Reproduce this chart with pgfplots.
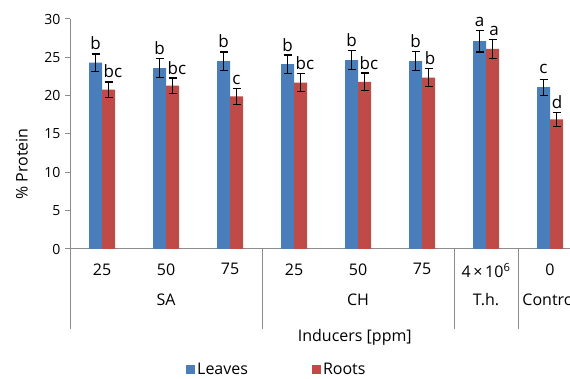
\documentclass[border=0pt]{standalone}
\usepackage{pgfplots}
\pgfplotsset{compat=1.18}
\usetikzlibrary{calc}
\usepackage{fontspec}
\setmainfont{Open Sans}
\definecolor{cblue}{HTML}{4A7EBB}
\definecolor{cred}{HTML}{BE4B48}
\definecolor{cgrey}{HTML}{8C8C8C}
\begin{document}
\begin{tikzpicture}[x=1pt,y=1pt]
\path[use as bounding box] (0,0) rectangle (570,379);
\begin{axis}[
  at={(70pt,130pt)}, anchor=south west,
  scale only axis, width=512pt, height=230pt,
  ybar=0pt, bar width=13pt,
  xmin=-0.5, xmax=7.5, ymin=0, ymax=30,
  ytick={0,5,...,30},
  xtick={0,...,7},
  xticklabels={25,50,75,25,50,75,{4\,×\,10\textsuperscript{6}},0},
  x tick label style={font=\fontsize{16}{18}\selectfont, yshift=-6pt},
  y tick label style={font=\fontsize{14}{16}\selectfont},
  /pgf/number format/assume math mode=true,
  axis x line*=bottom, axis y line*=left,
  axis line style={cgrey, line width=1pt, -},
  major tick length=5pt,
  xtick style={draw=none},
  ytick style={cgrey, line width=1pt},
  tick align=outside,
  yticklabel style={xshift=-1pt},
  ylabel={\% Protein},
  ylabel style={font=\fontsize{16}{18}\selectfont, at={(axis description cs:-0.094,0.37)}, anchor=center},
  clip=false,
  legend columns=2,
  legend style={at={(0.404,-0.526)}, anchor=center, draw=none, font=\fontsize{16}{18}\selectfont,
    /tikz/every even column/.append style={column sep=62pt},
    /tikz/every odd column/.append style={xshift=2pt}},
  legend image code/.code={\fill[#1] (0pt,-4.5pt) rectangle (9pt,4.5pt);},
]
\addplot[fill=cblue, draw=none,
  error bars/.cd, y dir=both, y explicit,
  error bar style={black, line width=1.3pt},
  error mark options={rotate=90, black, mark size=4pt, line width=1.3pt}]
  table[x=x, y=y, y error=e] {
x y e
0 24.3 1.15
1 23.6 1.25
2 24.5 1.2
3 24.1 1.2
4 24.65 1.25
5 24.5 1.25
6 27.1 1.4
7 21.1 1.05
};
\addlegendentry{Leaves}
\addplot[fill=cred, draw=none,
  error bars/.cd, y dir=both, y explicit,
  error bar style={black, line width=1.3pt},
  error mark options={rotate=90, black, mark size=4pt, line width=1.3pt}]
  table[x=x, y=y, y error=e] {
x y e
0 20.8 1.0
1 21.3 1.0
2 19.9 1.05
3 21.7 1.15
4 21.8 1.15
5 22.35 1.2
6 26.1 1.25
7 16.9 0.9
};
\addlegendentry{Roots}
% significance letters
\tikzset{lett/.style={anchor=base, inner sep=0pt, font=\fontsize{17}{19}\selectfont}}
\node[lett] at ($(axis cs:0,25.45)+(-6.5pt,4pt)$) {b};
\node[lett] at ($(axis cs:0,21.8)+(11pt,4pt)$) {bc};
\node[lett] at ($(axis cs:1,24.85)+(-6.5pt,4pt)$) {b};
\node[lett] at ($(axis cs:1,22.3)+(11pt,4pt)$) {bc};
\node[lett] at ($(axis cs:2,25.7)+(-6.5pt,4pt)$) {b};
\node[lett] at ($(axis cs:2,20.95)+(6.5pt,4pt)$) {c};
\node[lett] at ($(axis cs:3,25.3)+(-6.5pt,4pt)$) {b};
\node[lett] at ($(axis cs:3,22.85)+(11pt,4pt)$) {bc};
\node[lett] at ($(axis cs:4,25.9)+(-6.5pt,4pt)$) {b};
\node[lett] at ($(axis cs:4,22.95)+(11pt,4pt)$) {bc};
\node[lett] at ($(axis cs:5,25.75)+(-6.5pt,4pt)$) {b};
\node[lett] at ($(axis cs:5,23.55)+(8pt,4pt)$) {b};
\node[lett] at ($(axis cs:6,28.5)+(-6.5pt,4pt)$) {a};
\node[lett] at ($(axis cs:6,27.35)+(8pt,4pt)$) {a};
\node[lett] at ($(axis cs:7,22.15)+(-6.5pt,6pt)$) {c};
\node[lett] at ($(axis cs:7,17.8)+(7pt,4pt)$) {d};
% group separators
\draw[cgrey, line width=1pt] (axis cs:-0.5,0) -- ++(0pt,-80pt);
\draw[cgrey, line width=1pt] (axis cs:2.5,0) -- ++(0pt,-80pt);
\draw[cgrey, line width=1pt] (axis cs:5.5,0) -- ++(0pt,-80pt);
\draw[cgrey, line width=1pt] (axis cs:6.5,0) -- ++(0pt,-80pt);
\draw[cgrey, line width=1pt] (axis cs:7.5,0) -- ++(0pt,-80pt);
% group labels
\tikzset{grp/.style={anchor=center, inner sep=0pt, font=\fontsize{16}{18}\selectfont}}
\node[grp] at ($(axis cs:1,0)+(0pt,-51pt)$) {SA};
\node[grp] at ($(axis cs:4,0)+(0pt,-51pt)$) {CH};
\node[grp] at ($(axis cs:6,0)+(0pt,-51pt)$) {T.h.};
\node[grp] at ($(axis cs:7,0)+(0pt,-51pt)$) {Control};
\node[grp] at ($(axis cs:3.95,0)+(0pt,-88pt)$) {Inducers [ppm]};
\end{axis}
\end{tikzpicture}
\end{document}
